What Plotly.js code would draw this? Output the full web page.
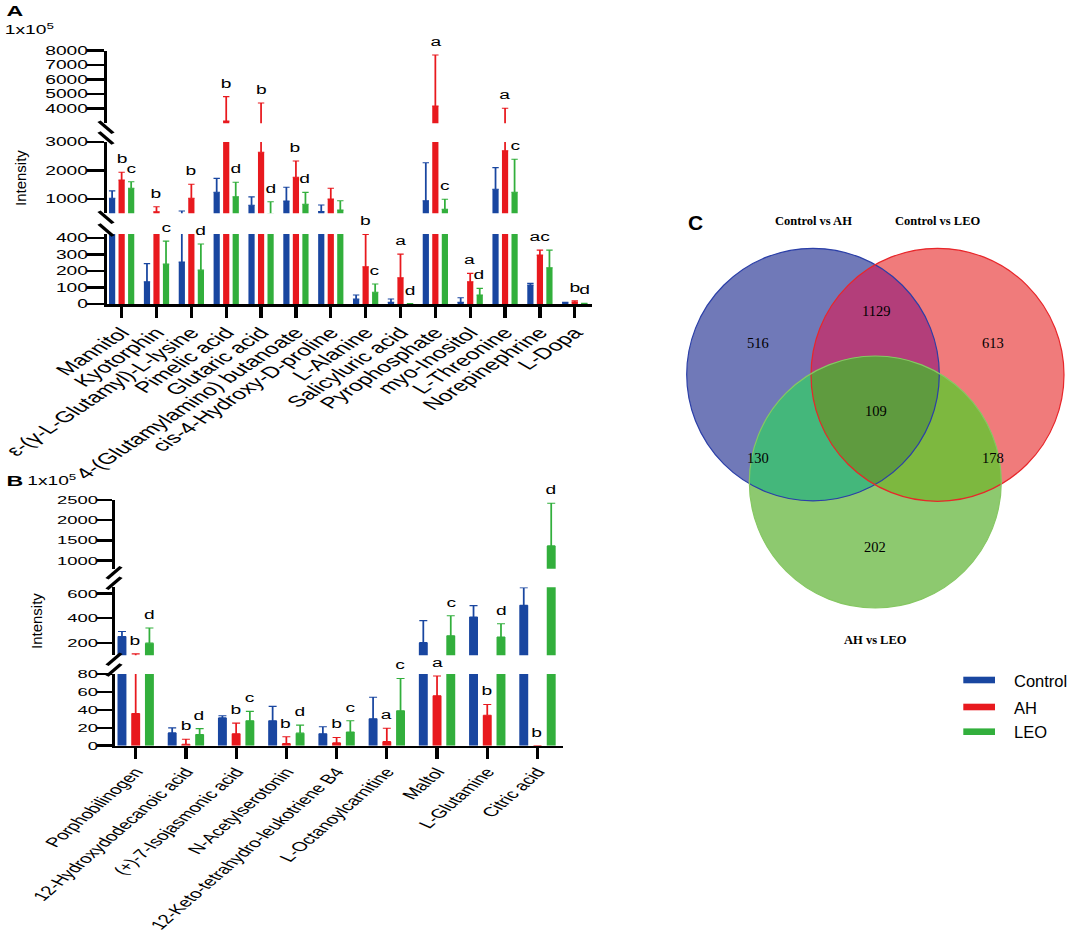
<!DOCTYPE html>
<html><head><meta charset="utf-8">
<script src="https://cdn.plot.ly/plotly-3.0.1.min.js"></script>
<style>
html,body{margin:0;padding:0;background:#fff;}
#wrap{position:relative;width:1072px;height:930px;overflow:hidden;background:#fff;}
#bars{position:absolute;left:0;top:0;width:420px;height:930px;transform:scaleX(1.6);transform-origin:0 0;}
#venn{position:absolute;left:0;top:0;width:1072px;height:930px;}
</style></head><body>
<div id="wrap"><div id="bars"></div><div id="venn"></div></div>
<script>
// ---------------- DATA ----------------
const seriesNames = ['Control', 'AH', 'LEO'];
const seriesColors = ['#1946a0', '#e8191e', '#32af3c'];

const catsA = ['Mannitol','Kyotorphin','ε-(γ-L-Glutamyl)-L-lysine','Pimelic acid','Glutaric acid','4-(Glutamylamino) butanoate','cis-4-Hydroxy-D-proline','L-Alanine','Salicyluric acid','Pyrophosphate','myo-Inositol','L-Threonine','Norepinephrine','L-Dopa'];
const controlA    = [1025, 135, 255, 1235, 783, 930, 556, 30, 10, 940, 10, 1340, 115, 8];
const controlErrA = [260, 110, 325, 490, 290, 480, 235, 25, 20, 1330, 28, 760, 10, 2];
const ahA         = [1667, 550, 1025, 3150, 2638, 1761, 1000, 226, 159, 4190, 135, 2695, 297, 12];
const ahErrA      = [270, 180, 490, 1680, 1760, 570, 375, 196, 144, 3510, 51, 1335, 30, 8];
const leoA        = [1375, 242, 206, 1077, 470, 814, 614, 71, 2, 640, 55, 1235, 220, 3];
const leoErrA     = [230, 140, 158, 510, 435, 420, 325, 50, 0, 350, 40, 1158, 107, 2];
const lettersAhA  = ['b','b','b','b','b','b','','b','a','a','a','a','ac','b'];
const lettersLeoA = ['c','c','d','d','d','d','','c','d','c','d','c','','d'];
const ticksA_low  = [0, 100, 200, 300, 400];
const ticksA_mid  = [1000, 2000, 3000];
const ticksA_high = [4000, 5000, 6000, 7000, 8000];

const catsB = ['Porphobilinogen','12-Hydroxydodecanoic acid','(+)-7-Isojasmonic acid','N-Acetylserotonin','12-Keto-tetrahydro-leukotriene B4','L-Octanoylcarnitine','Maltol','L-Glutamine','Citric acid'];
const controlB    = [251, 14.3, 31, 27.9, 13.2, 30, 202, 410, 504];
const controlErrB = [41, 5.6, 2.5, 16, 7.9, 24, 178, 92, 142];
const ahB         = [35.8, 1.6, 13.2, 2.3, 3.1, 4.5, 55.8, 34, 0];
const ahErrB      = [75, 5.6, 12, 7.7, 6.1, 15, 22, 12, 0];
const leoB        = [198, 12.4, 27.9, 14, 15.2, 39, 257, 247, 1364];
const leoErrB     = [122, 6.7, 10.4, 9, 12.7, 36, 163, 108, 1054];
const lettersAhB  = ['b','b','b','b','b','a','a','b','b'];
const lettersLeoB = ['d','d','c','d','c','c','c','d','d'];
const ticksB_low  = [0, 20, 40, 60, 80];
const ticksB_mid  = [200, 400, 600];
const ticksB_high = [1000, 1500, 2000, 2500];

const vennSetNames = ['Control vs AH', 'Control vs LEO', 'AH vs LEO'];
const vennOnly = [516, 613, 202];        // only set0, only set1, only set2
const vennPairs = [1129, 130, 178];      // set0∩set1, set0∩set2, set1∩set2
const vennAll = 109;

// ---------------- LAYOUT HELPERS (bars panel, visual px -> paper) ----------------
const SX = 1.6, VW = 420 * SX, H = 930;
const px = v => v / VW;
const py = v => 1 - v / H;
const dom = (top, bot) => [py(bot), py(top)];

const FONT = 'Liberation Sans, Arial, sans-serif';
const panels = [
  {
    xa: 'x', cats: catsA, vals: [controlA, ahA, leoA], errs: [controlErrA, ahErrA, leoErrA],
    letters: [null, lettersAhA, lettersLeoA],
    xdom: [107, 592.2], xrange: [-0.42, 13.5], tickangle: -47, xfont: 15.5, capw: 2, ytfont: 12, ytlen: 10.5,
    segs: [
      {ax: 'y',  range: [0, 425],     top: 234,   bot: 304,    ticks: ticksA_low},
      {ax: 'y2', range: [500, 3000],  top: 142,   bot: 213.25, ticks: ticksA_mid},
      {ax: 'y3', range: [3000, 8000], top: 50.7,  bot: 123.2,  ticks: ticksA_high}
    ], axX: 107, slash: -1
  },
  {
    xa: 'x2', cats: catsB, vals: [controlB, ahB, leoB], errs: [controlErrB, ahErrB, leoErrB],
    letters: [null, lettersAhB, lettersLeoB],
    xdom: [115.1, 562.6], xrange: [-0.41, 8.5], tickangle: -54, xfont: 13, capw: 2.5, ytfont: 11.5, ytlen: 9.4,
    segs: [
      {ax: 'y4', range: [0, 80],      top: 674,   bot: 745.7,  ticks: ticksB_low},
      {ax: 'y5', range: [100, 650],   top: 587.3, bot: 655.25, ticks: ticksB_mid},
      {ax: 'y6', range: [800, 2500],  top: 500,   bot: 568.7,  ticks: ticksB_high}
    ], axX: 115, slash: 1
  }
];

const traces = [];
const layout = {
  width: 420, height: 930, margin: {l: 0, r: 0, t: 0, b: 0},
  paper_bgcolor: 'rgba(0,0,0,0)', plot_bgcolor: 'rgba(0,0,0,0)',
  barmode: 'group', bargap: 0.18, bargroupgap: 0.35, showlegend: false,
  font: {family: FONT, color: '#000'}, annotations: [], shapes: []
};
const slot = (1 - layout.bargap) / 3;

panels.forEach(P => {
  const xkey = P.xa === 'x' ? 'xaxis' : 'xaxis2';
  layout[xkey] = {
    type: 'category', categoryorder: 'array', categoryarray: P.cats,
    anchor: P.segs[0].ax, domain: [px(P.xdom[0]), px(P.xdom[1])], range: P.xrange,
    showline: true, linecolor: '#000', linewidth: 2.5, ticks: 'outside', ticklen: 11, tickwidth: 2,
    tickcolor: '#000', tickangle: P.tickangle, tickfont: {size: P.xfont, family: FONT, color: '#000'},
    showgrid: false, zeroline: false, fixedrange: true
  };
  P.segs.forEach(s => {
    const ykey = 'yaxis' + (s.ax === 'y' ? '' : s.ax.slice(1));
    layout[ykey] = {
      anchor: P.xa, domain: dom(s.top, s.bot), range: s.range,
      showline: true, linecolor: '#000', linewidth: 2, ticks: 'outside', ticklen: P.ytlen, tickwidth: 2.5,
      tickcolor: '#000', tickmode: 'array', tickvals: s.ticks, ticktext: s.ticks.map(String),
      ticklabelstandoff: -3,
      tickfont: {size: P.ytfont, family: FONT, color: '#000'}, showgrid: false, zeroline: false, fixedrange: true
    };
    for (let j = 0; j < 3; j++) {
      traces.push({
        type: 'bar', name: seriesNames[j], x: P.cats, y: P.vals[j], xaxis: P.xa, yaxis: s.ax,
        marker: {color: seriesColors[j], line: {width: 0}},
        error_y: {type: 'data', symmetric: false, array: P.errs[j], arrayminus: P.vals[j].map(() => 0),
                  color: seriesColors[j], thickness: 1.1, width: P.capw},
        hoverinfo: 'skip', showlegend: false
      });
    }
  });
  // significance letters
  const segTop = v => {
    for (let k = P.segs.length - 1; k >= 0; k--) {
      const s = P.segs[k];
      if (v >= s.range[0] || k === 0) return {ax: s.ax, y: Math.min(v, s.range[1])};
    }
  };
  for (let j = 1; j < 3; j++) {
    P.letters[j].forEach((t, i) => {
      if (!t) return;
      const top = P.vals[j][i] + P.errs[j][i];
      const st = segTop(top);
      layout.annotations.push({
        text: t, xref: P.xa, yref: st.ax, x: i + (j - 1) * slot, y: st.y,
        xanchor: 'center', yanchor: 'middle', yshift: 13, showarrow: false,
        font: {size: 12, family: FONT, color: '#000'}
      });
    });
  }
  // axis break slashes
  const sl = (cx, cy) => ({
    type: 'line', xref: 'paper', yref: 'paper',
    x0: px(cx - 7), y0: py(cy + 6 * (P.slash < 0 ? -1 : 1)),
    x1: px(cx + 7), y1: py(cy - 6 * (P.slash < 0 ? -1 : 1)),
    line: {color: '#000', width: 2.5}
  });
  for (let k = 0; k < P.segs.length - 1; k++) {
    layout.shapes.push(sl(P.axX - 1, P.segs[k].top - 4));
    layout.shapes.push(sl(P.axX - 1, P.segs[k + 1].bot + 4));
  }
});

// panel letters and exponent labels
layout.annotations.push(
  {text: '<b>A</b>', xref: 'paper', yref: 'paper', x: px(3), y: py(11.5), xanchor: 'left', yanchor: 'middle', showarrow: false, font: {size: 14.5, family: FONT}},
  {text: '1x10<sup>5</sup>', xref: 'paper', yref: 'paper', x: px(1), y: py(29), xanchor: 'left', yanchor: 'middle', showarrow: false, font: {size: 12, family: FONT}},
  {text: '<b>B</b>', xref: 'paper', yref: 'paper', x: px(3), y: py(481), xanchor: 'left', yanchor: 'middle', showarrow: false, font: {size: 14.5, family: FONT}},
  {text: '1x10<sup>5</sup>', xref: 'paper', yref: 'paper', x: px(24), y: py(480), xanchor: 'left', yanchor: 'middle', showarrow: false, font: {size: 12, family: FONT}}
);

Plotly.newPlot('bars', traces, layout, {staticPlot: true, displayModeBar: false, responsive: false});

// ---------------- OVERLAY: Venn, legend, axis titles ----------------
const W2 = 1072;
const qx = v => v / W2, qy = v => 1 - v / H;
const circles = [
  {x: 813, y: 374.6, r: 126.3, line: '#2b3fa8'},
  {x: 937.5, y: 374.8, r: 126.5, line: '#e8262a'},
  {x: 875.3, y: 482, r: 126, line: '#86c763'}
];
const onlyColors = ['#7079b8', '#f07b7b', '#8dc96f'];
const pairColors = ['#b33e7a', '#44b77b', '#7db83f'];
const allColor = '#5f9b3f';
function interPath(cs) {
  const p = {x: 0, y: 0};
  cs.forEach(c => { p.x += c.x / cs.length; p.y += c.y / cs.length; });
  const pts = [];
  const N = 720;
  for (let k = 0; k < N; k++) {
    const a = 2 * Math.PI * k / N, ux = Math.cos(a), uy = Math.sin(a);
    let tmin = Infinity;
    cs.forEach(c => {
      const dx = p.x - c.x, dy = p.y - c.y;
      const b = ux * dx + uy * dy, cc = dx * dx + dy * dy - c.r * c.r;
      const t = -b + Math.sqrt(b * b - cc);
      if (t < tmin) tmin = t;
    });
    pts.push(qx(p.x + tmin * ux).toFixed(5) + ',' + qy(p.y + tmin * uy).toFixed(5));
  }
  return 'M' + pts.join('L') + 'Z';
}
const shapes2 = [];
circles.forEach((c, i) => shapes2.push({
  type: 'circle', xref: 'paper', yref: 'paper', x0: qx(c.x - c.r), x1: qx(c.x + c.r), y0: qy(c.y + c.r), y1: qy(c.y - c.r),
  fillcolor: onlyColors[i], line: {width: 0}, layer: 'above'
}));
[[0, 1], [0, 2], [1, 2]].forEach((pr, i) => shapes2.push({
  type: 'path', xref: 'paper', yref: 'paper', path: interPath([circles[pr[0]], circles[pr[1]]]),
  fillcolor: pairColors[i], line: {width: 0}
}));
shapes2.push({type: 'path', xref: 'paper', yref: 'paper', path: interPath(circles), fillcolor: allColor, line: {width: 0}});
circles.forEach(c => shapes2.push({
  type: 'circle', xref: 'paper', yref: 'paper', x0: qx(c.x - c.r), x1: qx(c.x + c.r), y0: qy(c.y + c.r), y1: qy(c.y - c.r),
  fillcolor: 'rgba(0,0,0,0)', line: {color: c.line, width: 1.2}
}));
// legend swatches
const legY = [680, 707, 731.7];
seriesNames.forEach((n, j) => shapes2.push({
  type: 'rect', xref: 'paper', yref: 'paper', x0: qx(963.3), x1: qx(995), y0: qy(legY[j] + 3.3), y1: qy(legY[j] - 3.3),
  fillcolor: seriesColors[j], line: {width: 0}
}));

const SERIF = 'Liberation Serif, Times New Roman, serif';
const ann2 = [];
const titlePos = [[813, 221], [937.7, 221], [875, 640]];
vennSetNames.forEach((t, i) => ann2.push({
  text: '<b>' + t + '</b>', xref: 'paper', yref: 'paper', x: qx(titlePos[i][0]), y: qy(titlePos[i][1]),
  xanchor: 'center', yanchor: 'middle', showarrow: false, font: {size: 12.5, family: SERIF, color: '#000'}
}));
const onlyPos = [[757.7, 342.7], [993.3, 342.7], [875.3, 547]];
const pairPos = [[875.7, 311], [757.5, 458], [993, 458]];
vennOnly.forEach((v, i) => ann2.push({text: String(v), xref: 'paper', yref: 'paper', x: qx(onlyPos[i][0]), y: qy(onlyPos[i][1]), xanchor: 'center', yanchor: 'middle', showarrow: false, font: {size: 14.5, family: SERIF, color: '#000'}}));
vennPairs.forEach((v, i) => ann2.push({text: String(v), xref: 'paper', yref: 'paper', x: qx(pairPos[i][0]), y: qy(pairPos[i][1]), xanchor: 'center', yanchor: 'middle', showarrow: false, font: {size: 14.5, family: SERIF, color: '#000'}}));
ann2.push({text: String(vennAll), xref: 'paper', yref: 'paper', x: qx(875.7), y: qy(411), xanchor: 'center', yanchor: 'middle', showarrow: false, font: {size: 14.5, family: SERIF, color: '#000'}});
ann2.push({text: '<b>C</b>', xref: 'paper', yref: 'paper', x: qx(695), y: qy(222), xanchor: 'center', yanchor: 'middle', showarrow: false, font: {size: 21, family: FONT, color: '#000'}});
seriesNames.forEach((n, j) => ann2.push({
  text: n, xref: 'paper', yref: 'paper', x: qx(1012), y: qy(legY[j] + 0.5), xanchor: 'left', yanchor: 'middle', showarrow: false,
  font: {size: 16.5, family: FONT, color: '#000'}
}));
ann2.push({text: 'Intensity', xref: 'paper', yref: 'paper', x: qx(20), y: qy(178), textangle: -90, xanchor: 'center', yanchor: 'middle', showarrow: false, font: {size: 15, family: FONT, color: '#000'}});
ann2.push({text: 'Intensity', xref: 'paper', yref: 'paper', x: qx(36.5), y: qy(621.5), textangle: -90, xanchor: 'center', yanchor: 'middle', showarrow: false, font: {size: 15, family: FONT, color: '#000'}});

Plotly.newPlot('venn', [], {
  width: 1072, height: 930, margin: {l: 0, r: 0, t: 0, b: 0},
  paper_bgcolor: 'rgba(0,0,0,0)', plot_bgcolor: 'rgba(0,0,0,0)',
  xaxis: {visible: false, range: [0, 1]}, yaxis: {visible: false, range: [0, 1]},
  shapes: shapes2, annotations: ann2, showlegend: false
}, {staticPlot: true, displayModeBar: false, responsive: false});
</script>
</body></html>
